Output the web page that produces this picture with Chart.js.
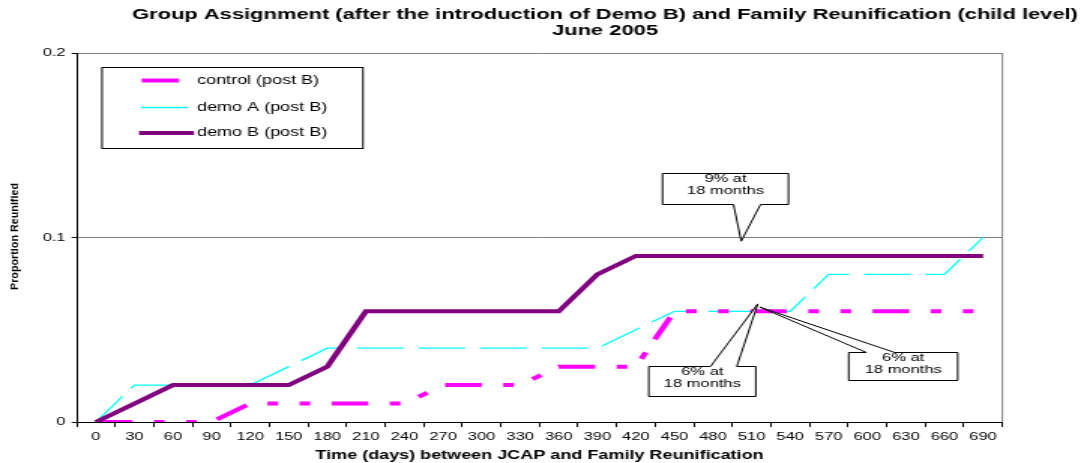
<!DOCTYPE html>
<html><head><meta charset="utf-8">
<script src="https://cdn.jsdelivr.net/npm/chart.js@4.4.1/dist/chart.umd.min.js"></script>
<style>html,body{margin:0;padding:0;background:#fff;overflow:hidden}</style>
</head><body>
<canvas id="c" width="720" height="463" style="display:block;width:1081px;height:463px"></canvas>
<script>
// ---- data ----
const days = [0,30,60,90,120,150,180,210,240,270,300,330,360,390,420,450,480,510,540,570,600,630,660,690];
const controlPostB = [0,0,0,0,0.01,0.01,0.01,0.01,0.01,0.02,0.02,0.02,0.03,0.03,0.03,0.06,0.06,0.06,0.06,0.06,0.06,0.06,0.06,0.06];
const demoAPostB   = [0,0.02,0.02,0.02,0.02,0.03,0.04,0.04,0.04,0.04,0.04,0.04,0.04,0.04,0.05,0.06,0.06,0.06,0.06,0.08,0.08,0.08,0.08,0.10];
const demoBPostB   = [0,0.01,0.02,0.02,0.02,0.02,0.03,0.06,0.06,0.06,0.06,0.06,0.06,0.08,0.09,0.09,0.09,0.09,0.09,0.09,0.09,0.09,0.09,0.09];
const yTicks = [0, 0.1, 0.2];
const seriesNames = ['control (post B)', 'demo A (post B)', 'demo B (post B)'];
const titleLines = ['Group Assignment (after the introduction of Demo B) and Family Reunification (child level)', 'June 2005'];
const xAxisTitle = 'Time (days) between JCAP and Family Reunification';
const yAxisTitle = 'Proportion Reunified';
const calloutTexts = [['9% at','18 months'], ['6% at','18 months'], ['6% at','18 months']];

// ---- layout / style (display px; canvas is stretched horizontally) ----
const S = 1081 / 720;
const FONT = "'Liberation Sans', Arial, sans-serif";
const calloutGeom = [
  {tip:[16.73, 0.098], box:[-78.7, 47.3, -68, -37], edge:'bottom', base:[-7.7, 19.3]},
  {tip:[17.16, 0.064], box:[-109, -2, 62, 92], edge:'top', base:[-47.3, -21]},
  {tip:[17.21, 0.0623], box:[89, 198, 45, 73], edge:'top', base:[106.7, 135]}
];
const legendGeom = {left:102, top:67, right:363, bottom:148, textX:197,
  rows:[{y:80.5, x0:141.7, x1:179}, {y:107.5, x0:141, x1:188}, {y:133, x0:139, x1:194}]};

Chart.defaults.font.family = FONT;

const decor = {
  id: 'decor',
  afterDraw(chart) {
    const ctx = chart.ctx, ca = chart.chartArea;
    const xs = chart.scales.x, ys = chart.scales.y;
    ctx.save();
    // right frame line
    ctx.strokeStyle = '#808080'; ctx.lineWidth = 1;
    ctx.beginPath(); ctx.moveTo(ca.right, ca.top); ctx.lineTo(ca.right, ca.bottom); ctx.stroke();
    // title
    ctx.fillStyle = '#000'; ctx.textAlign = 'center'; ctx.textBaseline = 'middle';
    ctx.font = 'bold 14.6px ' + FONT;
    ctx.fillText(titleLines[0], 605 / S, 14.5);
    ctx.fillText(titleLines[1], 605 / S, 30.5);
    // y axis title (condensed, rotated)
    ctx.save();
    ctx.font = 'bold 8px ' + FONT;
    const w = ctx.measureText(yAxisTitle).width;
    ctx.translate(14 / S, 236.5);
    ctx.rotate(-Math.PI / 2);
    ctx.scale(107 / w, 1);
    ctx.fillText(yAxisTitle, 0, 0);
    ctx.restore();
    // legend
    const L = legendGeom;
    ctx.fillStyle = '#fff'; ctx.strokeStyle = '#000'; ctx.lineWidth = 1;
    ctx.fillRect(L.left / S, L.top, (L.right - L.left) / S, L.bottom - L.top);
    ctx.strokeRect(L.left / S, L.top + 0.5, (L.right - L.left) / S, L.bottom - L.top);
    chart.data.datasets.forEach((ds, i) => {
      const r = L.rows[i];
      ctx.strokeStyle = ds.borderColor; ctx.lineWidth = ds.borderWidth; ctx.setLineDash([]);
      ctx.beginPath(); ctx.moveTo(r.x0 / S, r.y); ctx.lineTo(r.x1 / S, r.y); ctx.stroke();
      ctx.fillStyle = '#000'; ctx.textAlign = 'left'; ctx.textBaseline = 'middle';
      ctx.font = '12px ' + FONT;
      ctx.fillText(ds.label, L.textX / S, r.y);
    });
    // callouts
    calloutGeom.forEach((c, i) => {
      const tx = xs.getPixelForValue(c.tip[0]), ty = ys.getPixelForValue(c.tip[1]);
      const l = tx + c.box[0] / S, r = tx + c.box[1] / S;
      const t = Math.round(ty + c.box[2]) + 0.5, b = Math.round(ty + c.box[3]) + 0.5;
      const w0 = tx + c.base[0] / S, w1 = tx + c.base[1] / S;
      ctx.lineWidth = 1; ctx.strokeStyle = '#000'; ctx.fillStyle = '#fff';
      ctx.beginPath();
      if (c.edge === 'bottom') {
        ctx.moveTo(l, t); ctx.lineTo(r, t); ctx.lineTo(r, b); ctx.lineTo(w1, b);
        ctx.lineTo(tx, ty); ctx.lineTo(w0, b); ctx.lineTo(l, b); ctx.closePath();
      } else {
        ctx.moveTo(l, t); ctx.lineTo(w0, t); ctx.lineTo(tx, ty); ctx.lineTo(w1, t);
        ctx.lineTo(r, t); ctx.lineTo(r, b); ctx.lineTo(l, b); ctx.closePath();
      }
      ctx.fill(); ctx.stroke();
      ctx.fillStyle = '#000'; ctx.textAlign = 'center'; ctx.textBaseline = 'middle';
      ctx.font = '11px ' + FONT;
      calloutTexts[i].forEach((txt, k) => ctx.fillText(txt, (l + r) / 2, t + 5.5 + k * 12));
    });
    ctx.restore();
  }
};

new Chart(document.getElementById('c'), {
  type: 'line',
  data: {
    labels: days.map(String),
    datasets: [
      {label: seriesNames[0], data: controlPostB, borderColor: '#FF00FF', borderWidth: 4,
       borderDash: [24.4, 14.3, 7.1, 14.3, 7.1, 14.3], order: 1},
      {label: seriesNames[1], data: demoAPostB, borderColor: '#00FFFF', borderWidth: 1.3,
       borderDash: [31.1, 9.9], order: 2},
      {label: seriesNames[2], data: demoBPostB, borderColor: '#800080', borderWidth: 4, order: 0}
    ]
  },
  options: {
    responsive: false, animation: false, devicePixelRatio: 1,
    layout: {padding: {top: 53, right: 52.4, bottom: 0, left: 0}},
    elements: {point: {radius: 0}, line: {tension: 0, fill: false}},
    plugins: {legend: {display: false}, title: {display: false}, tooltip: {enabled: false}},
    scales: {
      x: {
        type: 'category', offset: true,
        grid: {display: true, drawOnChartArea: false, drawTicks: true, tickLength: 5, tickColor: '#000', offset: true},
        border: {display: true, color: '#000', width: 1},
        ticks: {color: '#000', font: {size: 11}, padding: 3, maxRotation: 0, autoSkip: false},
        title: {display: true, text: xAxisTitle, color: '#000', font: {size: 12, weight: 'bold'}, padding: {top: 0, bottom: 0}},
        afterFit: s => { s.height = 41; }
      },
      y: {
        min: 0, max: 0.2,
        afterBuildTicks: s => { s.ticks = yTicks.map(v => ({value: v})); },
        grid: {color: c => (c.tick && c.tick.value === 0) ? '#000' : '#808080', tickColor: '#000', tickLength: 3.3, drawTicks: true},
        border: {display: true, color: '#000', width: 1},
        ticks: {color: '#000', font: {size: 11}, padding: 4},
        afterFit: s => { s.width = 51; }
      }
    }
  },
  plugins: [decor]
});
</script>
</body></html>
